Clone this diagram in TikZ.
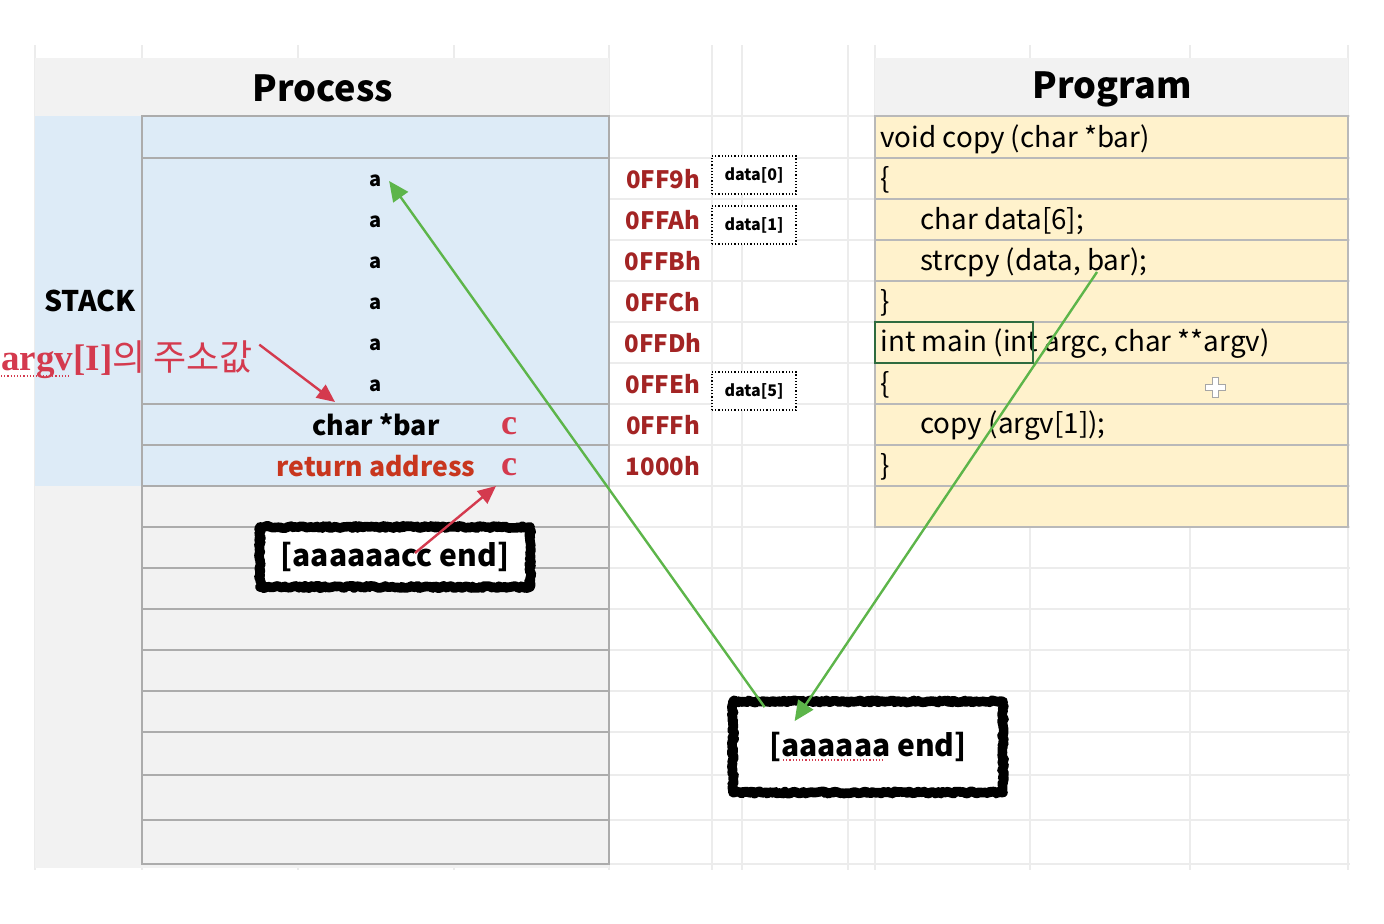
\documentclass[tikz,border=0pt]{standalone}
\usepackage{fontspec}
\setmainfont{Noto Sans CJK KR}
\newfontfamily\notefont{Liberation Serif}
\usetikzlibrary{arrows.meta,decorations.pathmorphing}

\definecolor{hdrgray}{HTML}{F2F2F2}
\definecolor{stackblue}{HTML}{DDEBF7}
\definecolor{codeyellow}{HTML}{FFF2CC}
\definecolor{addrred}{HTML}{A32424}
\definecolor{notered}{HTML}{D43A4E}
\definecolor{retred}{HTML}{C8361E}
\definecolor{arrowgreen}{HTML}{5DB54A}
\definecolor{selgreen}{HTML}{2E6B3F}

\tikzset{
  gridline/.style={gray!15, line width=0.6pt},
  cellline/.style={gray!65, line width=0.8pt},
  stackval/.style={font=\bfseries\fontsize{10}{12}\selectfont},
  addr/.style={text=addrred, font=\bfseries\fontsize{12}{14}\selectfont},
  databox/.style={draw, densely dotted, line width=0.6pt, fill=white,
    minimum width=42pt, minimum height=19pt, inner sep=1pt,
    font=\bfseries\fontsize{8}{10}\selectfont},
  codeline/.style={anchor=west, inner sep=1pt, font=\fontsize{13.9}{16}\selectfont},
  cmark/.style={text=notered, inner sep=0pt,
    font=\notefont\bfseries\fontsize{18}{20}\selectfont},
  roughbox/.style={fill=white, minimum width=135pt, inner sep=2pt,
    font=\bfseries\fontsize{15}{18}\selectfont,
    postaction={draw, line width=4.8pt, line join=round, decorate,
      decoration={random steps, segment length=1pt, amplitude=0.6pt}},
    postaction={draw, line width=0.7pt, line join=round, decorate,
      decoration={random steps, segment length=0.8pt, amplitude=1.3pt}}},
  greenarrow/.style={-{Triangle[length=10pt,width=9pt]}, arrowgreen, line width=1.2pt},
  notearrow/.style={-{Triangle[length=9pt,width=8pt]}, notered, line width=1.2pt}
}

\begin{document}
\begin{tikzpicture}[x=0.5pt, y=-0.5pt]

        \useasboundingbox (0,0) rectangle (1384,924);

        % Sheet grid
        \foreach \y in {116,158,199,240,281,322,363,404,445,486,527,568,609,650,691,732,775,820,864}
          \draw[gridline] (35,\y) -- (1350,\y);
        \foreach \x in {35,142,298,454,609,712,742,848,875,1030,1190,1348}
          \draw[gridline] (\x,45) -- (\x,870);

        % Header cells
        \fill[hdrgray] (35,58) rectangle (609,116);
        \fill[hdrgray] (875,58) rectangle (1348,116);
        \node[font=\bfseries\fontsize{18}{20}\selectfont] (proc) at (323,88) {Process};
        \node[font=\bfseries\fontsize{18}{20}\selectfont] (prog) at (1112,89) {Program};

        % Process column
        \fill[stackblue] (35,116) rectangle (609,486);
        \fill[hdrgray] (35,486) rectangle (609,868);
        \draw[cellline] (142,116) rectangle (609,864);
        \foreach \y in {158,404,445,486,527,568,609,650,691,732,775,820}
          \draw[cellline] (142,\y) -- (609,\y);
        \node[font=\bfseries\fontsize{14.2}{16}\selectfont] (stack) at (90,301) {STACK};

        % Stack contents
        \foreach \i/\y in {1/181,2/222,3/263,4/304,5/345,6/386}
          \node[stackval] (a\i) at (376,\y) {a};
        \node[font=\bfseries\fontsize{13.4}{15}\selectfont] (bar) at (376,425) {char *bar};
        \node[text=retred, font=\bfseries\fontsize{13.3}{15}\selectfont] (ret) at (376,466) {return address};

        % Addresses
        \foreach \i/\t in {0/0FF9h,1/0FFAh,2/0FFBh,3/0FFCh,4/0FFDh,5/0FFEh,6/0FFFh,7/1000h}
          \node[addr] (addr\i) at (663,{179+41*\i}) {\t};
        \node[databox] (d0) at (754,175) {data[0]};
        \node[databox] (d1) at (754,225) {data[1]};
        \node[databox] (d5) at (754,391) {data[5]};

        % Program code
        \fill[codeyellow] (875,116) rectangle (1348,527);
        \draw[cellline, gray!55] (875,116) rectangle (1348,527);
        \foreach \y in {158,199,240,281,322,363,404,445,486}
          \draw[cellline, gray!55] (875,\y) -- (1348,\y);
        \node[codeline] (c1) at (878,139) {void copy (char *bar)};
        \node[codeline] (c2) at (878,180) {\{};
        \node[codeline] (c3) at (918,221) {char data[6];};
        \node[codeline] (c4) at (918,262) {strcpy (data, bar);};
        \node[codeline] (c5) at (878,303) {\}};
        \node[codeline] (c6) at (878,344) {int main (int argc, char **argv)};
        \node[codeline] (c7) at (878,385) {\{};
        \node[codeline] (c8) at (918,426) {copy (argv[1]);};
        \node[codeline] (c9) at (878,467) {\}};
        \draw[selgreen, line width=1pt] (875,322) rectangle (1033,363);

        % Move cursor
        \draw[gray!70, fill=white, line width=0.5pt] (1212,378) -- (1218,378) -- (1218,385) -- (1225,385)
          -- (1225,391) -- (1218,391) -- (1218,398) -- (1212,398) -- (1212,391) -- (1205,391)
          -- (1205,385) -- (1212,385) -- cycle;

        % Notes
        \node[anchor=west, inner sep=0pt, text=notered] (argvnote) at (1,360)
          {{\notefont\bfseries\fontsize{18.5}{20}\selectfont argv[I]}{\fontsize{18}{20}\selectfont 의 주소값}};
        \draw[notered, densely dotted, line width=0.6pt] (1,376) -- (71,376);
        \node[cmark] (cbar) at (509,426) {c};
        \node[cmark] (cret) at (509,467) {c};

        % Strings
        \node[roughbox, minimum height=30pt] (payload) at (395,557) {[aaaaaacc end]};
        \node[roughbox, minimum height=45.5pt] (input) at (868,747) {[aaaaaa end]};
        \draw[notered, densely dotted, line width=0.6pt] (783,760) -- (885,760);

        % Arrows
        \coordinate (argvtip) at (335,402);
        \coordinate (rettip) at (496,486);
        \coordinate (strsrc) at (1097,272);
        \draw[notearrow] ([shift={(6,4)}]argvnote.north east) -- (argvtip);
        \draw[notearrow] ([shift={(20,-4)}]payload.center) -- (rettip);
        \draw[greenarrow] ([shift={(32,6)}]input.north west) -- (a1.east);
        \draw[greenarrow] (strsrc) -- ([shift={(62,20)}]input.north west);

    \end{tikzpicture}
\end{document}
